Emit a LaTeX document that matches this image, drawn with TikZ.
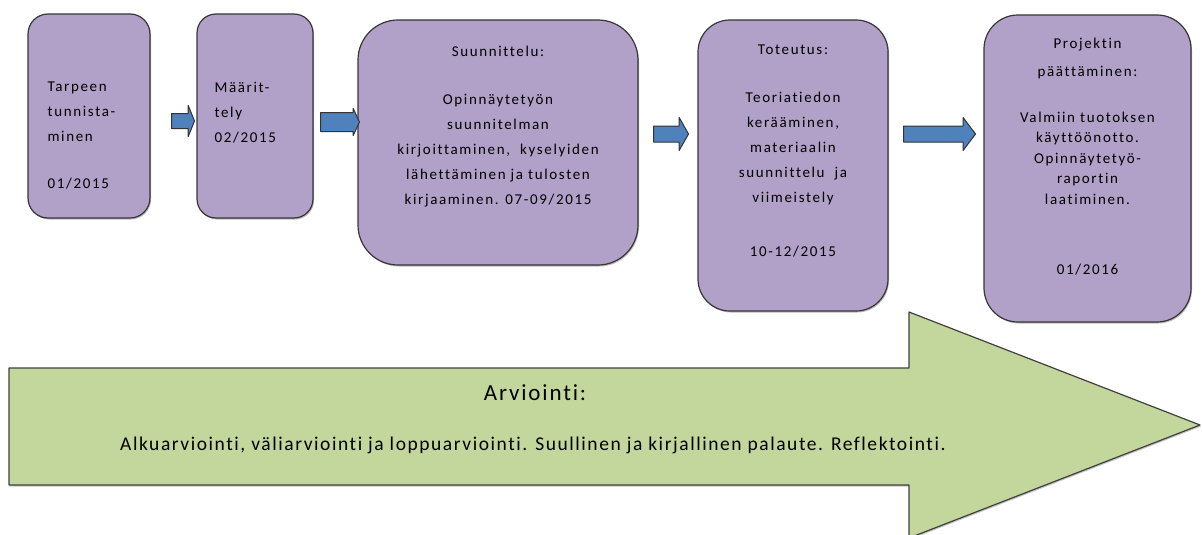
\documentclass[tikz,border=0pt]{standalone}
\usepackage{fontspec}
\setmainfont{Carlito}
\newfontfamily\boxfont{Carlito}[LetterSpace=11, Ligatures={NoCommon}]
\newfontfamily\evalfont{Carlito}[LetterSpace=8, Ligatures={NoCommon}]
\usepackage{xcolor}
\usetikzlibrary{positioning,shapes.arrows,shadows}

\definecolor{phasepurple}{RGB}{177,160,199}
\definecolor{evalgreen}{RGB}{195,214,155}
\definecolor{arrowblue}{RGB}{79,129,189}
\definecolor{edgegray}{RGB}{55,55,55}

\tikzset{
  phase/.style={draw=edgegray, line width=1.2pt, fill=phasepurple, inner sep=0pt,
    drop shadow={shadow xshift=1pt, shadow yshift=-1.5pt, fill=black!45, opacity=.6}},
  phasetext/.style={inner sep=0pt, font=\boxfont\fontsize{15}{25}\selectfont},
  flowarrow/.style={single arrow, draw=black!80, line width=1pt, fill=arrowblue,
    anchor=tail, minimum width=0pt, inner xsep=0pt},
  evalarrow/.style={draw=black!75, line width=1.2pt, fill=evalgreen,
    drop shadow={shadow xshift=1pt, shadow yshift=-1.5pt, fill=black!45, opacity=.5}},
  evaltext/.style={inner sep=0pt, font=\evalfont\fontsize{19.5}{22}\selectfont}
}

\begin{document}
\begin{tikzpicture}[line cap=round,line join=round,x=1pt,y=-1pt]
\useasboundingbox (0,0) rectangle (1202,535);

% evaluation arrow under the phases
\draw [evalarrow] (9,368) -- (909,368) -- (909,312) -- (1200,425) -- (909,538) -- (909,485) -- (9,485) -- cycle;
\node [evaltext, font=\evalfont\fontsize{23}{24}\selectfont, anchor=base] (evaltitle) at (535,400) {Arviointi:};
\node [evaltext, anchor=base] (evalbody) at (533,450) {Alkuarviointi, väliarviointi ja loppuarviointi. Suullinen ja kirjallinen palaute. Reflektointi.};

% phases
\node [phase, minimum width=122pt, minimum height=204pt, rounded corners=20pt] (b1) at (89,116) {};
\node [phase, minimum width=116pt, minimum height=204pt, rounded corners=19pt] (b2) at (255,116) {};
\node [phase, minimum width=280pt, minimum height=245pt, rounded corners=40pt] (b3) at (498,142.5) {};
\node [phase, minimum width=190pt, minimum height=291pt, rounded corners=32pt] (b4) at (793,165.5) {};
\node [phase, minimum width=207pt, minimum height=307pt, rounded corners=34pt] (b5) at (1087.5,168.5) {};

\node [phasetext, align=left, below right=68pt and 20pt of b1.north west] (t1)
  {Tarpeen\\ tunnista-\\ minen\\[22pt] 01/2015};
\node [phasetext, align=left, below right=69pt and 18pt of b2.north west] (t2)
  {Määrit-\\ tely\\ 02/2015};
\node [phasetext, align=center, below=26pt of b3.north] (t3)
  {Suunnittelu:\\[23pt] Opinnäytetyön\\ suunnitelman\\ kirjoittaminen,\ \ kyselyiden\\ lähettäminen ja tulosten\\ kirjaaminen. 07-09/2015};
\node [phasetext, align=center, below=25pt of b4.north] (t4)
  {Toteutus:\\[23pt] Teoriatiedon\\ kerääminen,\\ materiaalin\\ suunnittelu\ \ ja\\ viimeistely\\[29pt] 10-12/2015};
\node [phasetext, font=\boxfont\fontsize{15}{20.5}\selectfont, align=center, below=23pt of b5.north] (t5)
  {Projektin\\[8pt] päättäminen:\\[25pt] Valmiin tuotoksen\\ käyttöönotto.\\ Opinnäytetyö-\\ raportin\\ laatiminen.\\[50pt] 01/2016};

% arrows between phases
\node [flowarrow, minimum height=23pt, inner ysep=7pt, single arrow head extend=8pt, single arrow tip angle=136] (a1) at (171,121) {};
\node [flowarrow, minimum height=39pt, inner ysep=9pt, single arrow head extend=4pt, single arrow tip angle=130] (a2) at (320,122) {};
\node [flowarrow, minimum height=35pt, inner ysep=7.5pt, single arrow head extend=8.5pt, single arrow tip angle=121] (a3) at (653,134) {};
\node [flowarrow, minimum height=72pt, inner ysep=7.5pt, single arrow head extend=8.5pt, single arrow tip angle=106] (a4) at (903,134) {};
\end{tikzpicture}
\end{document}
